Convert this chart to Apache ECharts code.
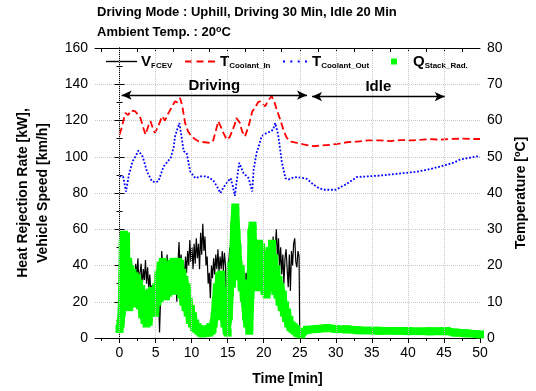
<!DOCTYPE html>
<html>
<head>
<meta charset="utf-8">
<script src="https://cdn.jsdelivr.net/npm/echarts@6/dist/echarts.min.js"></script>
<style>
html, body { margin: 0; padding: 0; background: #fff; }
#chart { width: 536px; height: 391px; }
</style>
</head>
<body>
<div id="chart"></div>
<script>
// 时间轴刻度
var x_major = [0, 5, 10, 15, 20, 25, 30, 35, 40, 45, 50];
var x_minor = [-2.5, 2.5, 7.5, 12.5, 17.5, 22.5, 27.5, 32.5, 37.5, 42.5, 47.5];
var x_top = [-2.5, 0, 2.5, 5, 7.5, 10, 12.5, 15, 17.5, 20, 22.5, 25, 27.5, 30, 32.5, 35, 37.5, 40, 42.5, 45, 47.5];
var x_grid = [0.001, 5, 10, 15, 20, 25, 30, 35, 40, 45];

// 行驶段采样时间 [min]
var drive_time = [
	0, 0.15, 0.3, 0.45, 0.6, 0.75, 0.9, 1.05, 1.2, 1.35,
	1.5, 1.65, 1.8, 1.95, 2.1, 2.25, 2.4, 2.55, 2.7, 2.85,
	3, 3.15, 3.3, 3.45, 3.6, 3.75, 3.9, 4.05, 4.2, 4.35,
	4.5, 4.65, 4.8, 4.95, 5.1, 5.25, 5.4, 5.55, 5.7, 5.85,
	6, 6.15, 6.3, 6.45, 6.6, 6.75, 6.9, 7.05, 7.2, 7.35,
	7.5, 7.65, 7.8, 7.95, 8.1, 8.25, 8.4, 8.55, 8.7, 8.85,
	9, 9.15, 9.3, 9.45, 9.6, 9.75, 9.9, 10.05, 10.2, 10.35,
	10.5, 10.65, 10.8, 10.95, 11.1, 11.25, 11.4, 11.55, 11.7, 11.85,
	12, 12.15, 12.3, 12.45, 12.6, 12.75, 12.9, 13.05, 13.2, 13.35,
	13.5, 13.65, 13.8, 13.95, 14.1, 14.25, 14.4, 14.55, 14.7, 14.85,
	15, 15.15, 15.3, 15.45, 15.6, 15.75, 15.9, 16.05, 16.2, 16.35,
	16.5, 16.65, 16.8, 16.95, 17.1, 17.25, 17.4, 17.55, 17.7, 17.85,
	18, 18.15, 18.3, 18.45, 18.6, 18.75, 18.9, 19.05, 19.2, 19.35,
	19.5, 19.65, 19.8, 19.95, 20.1, 20.25, 20.4, 20.55, 20.7, 20.85,
	21, 21.15, 21.3, 21.45, 21.6, 21.75, 21.9, 22.05, 22.2, 22.35,
	22.5, 22.65, 22.8, 22.95, 23.1, 23.25, 23.4, 23.55, 23.7, 23.85,
	24, 24.15, 24.3, 24.45, 24.6, 24.75, 24.9
];

// V_FCEV 车速 [km/h]
var speed_value = [
	37, 48, 33, 46, 30, 44, 36, 42, 31, 40,
	36, 43, 32, 38, 29, 41, 34, 44, 30, 36,
	41, 28, 38, 32, 43, 30, 39, 27, 35, 25,
	29, 24, 28, 23, 27, 20, 26, 3, 22, 48,
	40, 35, 44, 33, 46, 30, 42, 36, 28, 40,
	27, 44, 33, 20, 40, 53, 38, 46, 34, 42,
	31, 45, 36, 48, 40, 54, 42, 50, 38, 52,
	41, 55, 44, 52, 38, 58, 46, 63, 48, 56,
	40, 45, 30, 36, 22, 40, 33, 44, 35, 46,
	38, 49, 36, 45, 38, 48, 37, 47, 40, 14,
	26, 42, 50, 45, 58, 48, 52, 40, 46, 36,
	44, 35, 40, 30, 38, 28, 23, 36, 32, 44,
	36, 46, 50, 34, 44, 30, 48, 38, 54, 42,
	50, 40, 46, 38, 44, 40, 49, 42, 48, 44,
	53, 38, 56, 40, 50, 60, 44, 55, 38, 50,
	35, 46, 30, 44, 49, 38, 28, 46, 26, 48,
	40, 52, 55, 42, 39, 48, 45
];
var speed_end_time = [25.0];
var speed_end_value = [0];

// Q_Stack_Rad. 散热量 [kW]
var q_drive_value = [
	5, 8, 14, 52, 57, 22, 56, 18, 42, 17,
	38, 20, 36, 22, 34, 19, 33, 20, 30, 18,
	27, 13, 24, 10, 20, 8, 22, 9, 25, 14,
	26, 15, 24, 14, 28, 20, 35, 22, 40, 24,
	42, 25, 40, 23, 38, 25, 40, 27, 41, 28,
	42, 26, 40, 28, 42, 30, 41, 24, 36, 20,
	32, 17, 28, 14, 20, 10, 16, 8, 12, 6,
	8, 5, 6, 4, 5, 3, 4, 2.5, 4, 3,
	4, 3, 5, 3, 6, 4, 5, 8, 12, 20,
	28, 14, 34, 18, 35, 12, 26, 8, 12, 4,
	3, 12, 25, 40, 30, 44, 62, 72, 58, 50,
	40, 34, 38, 28, 30, 22, 20, 12, 8, 28,
	4, 24, 58, 62, 40, 52, 30, 48, 28, 52,
	30, 50, 28, 46, 26, 44, 24, 40, 28, 48,
	30, 52, 28, 44, 26, 38, 24, 32, 20, 28,
	17, 24, 14, 18, 11, 14, 8, 10, 6, 7,
	5, 6, 4, 5, 3, 3.5, 2.5
];
var q_idle_time = [25.2, 26, 27.4, 28.8, 30, 31.5, 33, 36, 40, 43, 45.4, 46.5, 48, 50];
var q_idle_value = [2, 4.5, 5, 5.5, 5, 4.8, 4.3, 4, 3.8, 3.7, 3.8, 3, 2.6, 2];

// T_Coolant_In 入口温度 [°C]
var tin_time = [0, 0.3, 0.8, 1.2, 1.6, 2.2, 2.6, 2.9, 3.3, 3.6, 4.0, 4.3, 4.6, 4.9, 5.4, 5.9, 6.3, 6.8, 7.2, 7.7, 8.0, 8.4, 8.7, 9.1, 9.5, 10.0, 10.5, 11.0, 11.8, 12.6, 13.0, 13.4, 13.7, 14.0, 14.4, 14.9, 15.3, 15.6, 16.0, 16.2, 16.7, 17.0, 17.4, 17.9, 18.4, 18.8, 19.2, 19.5, 19.8, 20.2, 20.6, 21.1, 21.5, 21.8, 22.3, 22.8, 23.2, 23.8, 24.6, 25.5, 26.9, 28.0, 29.2, 30.5, 31.5, 33, 34.5, 36.1, 37.5, 39, 40.7, 42, 43, 44.5, 46, 47.5, 49, 50];
var tin_value = [56.1, 58, 62.1, 61.5, 62.8, 62.5, 61.5, 60.7, 58, 56.1, 58.5, 59.8, 58, 56.6, 58.5, 61.2, 60, 62.1, 63.5, 65.3, 65, 66.2, 64, 59.3, 57, 55.6, 54.8, 54.2, 54.0, 53.8, 54.5, 57.5, 59.8, 58.5, 56.6, 54.7, 55.5, 57, 59, 60.7, 59.3, 57, 55.6, 58.4, 62.5, 63.5, 65, 65.3, 64.5, 63.9, 65.5, 66.7, 65, 63, 60.2, 57, 55.2, 54.2, 53.8, 53.4, 52.9, 53.1, 53.3, 53.6, 54, 54.2, 54.5, 54.5, 54.3, 54.6, 54.5, 54.7, 54.9, 54.7, 54.9, 55.0, 54.9, 54.9];

// T_Coolant_Out 出口温度 [°C]
var tout_time = [0, 0.5, 0.9, 1.3, 1.8, 2.2, 2.6, 3.2, 3.8, 4.5, 5.0, 5.4, 6.1, 6.6, 7.1, 7.5, 7.7, 8.0, 8.3, 8.6, 8.9, 9.3, 9.8, 10.5, 11.3, 12.1, 13.0, 13.6, 14.0, 14.4, 14.7, 15.4, 15.7, 16.0, 16.3, 16.6, 17.2, 17.9, 18.4, 18.6, 19.0, 19.4, 19.7, 20.4, 21.0, 21.3, 21.6, 22.0, 22.5, 23.0, 23.4, 24.0, 24.6, 25.5, 26.0, 26.9, 27.6, 28.3, 29.2, 30.1, 30.8, 31.5, 32.0, 32.9, 34.5, 36.1, 38, 39.4, 41, 42.1, 43.5, 45.4, 46.5, 47.2, 48.5, 49.5, 50];
var tout_value = [44.6, 44.6, 40.4, 45, 48.7, 50, 51.7, 50.1, 46, 43.2, 43, 43.2, 47.3, 48.5, 49.7, 52.5, 55.6, 57.5, 59.3, 55.6, 51.5, 51.1, 46, 44.1, 44.6, 44.6, 43.5, 41.5, 40, 41.5, 42.3, 44.1, 42, 39.2, 44, 48.3, 45.5, 44.1, 40.4, 46.4, 51, 53.5, 55.6, 56.6, 57.0, 57.5, 59.3, 56.1, 48.7, 44.1, 43.7, 44.2, 44.4, 44.1, 43.9, 42.3, 41.4, 40.9, 40.9, 40.9, 41.8, 42.5, 43.2, 44.4, 44.6, 44.8, 45.2, 45.5, 45.8, 46.2, 46.8, 47.8, 48.5, 49.2, 49.7, 50.1, 50.0];

// 行驶/怠速标注
var driving_range = [0.3, 26];
var idle_range = [26.7, 45.1];
var arrow_level = 134;

var font_family = "'Liberation Sans', Arial, sans-serif";

function to_pairs(xs, ys) {
	var out = [];
	for (var i = 0; i < xs.length; i++) {
		out.push([xs[i], ys[i]]);
	}
	return out;
}

// 单项图例（位置逐个指定）
function legend_item(name, left, item_width, item_height, icon, text_pad, line_sample) {
	return {
		data: [{ name: name, icon: icon }],
		left: left,
		top: 54,
		padding: 0,
		itemWidth: item_width,
		itemHeight: item_height,
		itemGap: 0,
		selectedMode: false,
		icon: icon,
		itemStyle: { borderWidth: 0 },
		formatter: function (n) {
			var parts = n.split('_');
			return (line_sample ? '{ln|}' : '') + '{m|' + parts[0] + '}{s|' + parts.slice(1).join('_') + '}';
		},
		textStyle: {
			fontFamily: font_family,
			rich: {
				ln: { width: 31, height: 1.4, backgroundColor: '#000' },
				m: { fontSize: 15, fontWeight: 'bold', color: '#000', lineHeight: 17, padding: [0, 0, 0, text_pad] },
				s: { fontSize: 8, fontWeight: 'bold', color: '#000', verticalAlign: 'bottom', padding: [9, 0, 0, 0] }
			}
		}
	};
}

var grid_lines = [];
for (var i = 0; i < x_grid.length; i++) {
	grid_lines.push({ xAxis: x_grid[i] });
}

var chart = echarts.init(document.getElementById('chart'));
var option = {
	animation: false,
	backgroundColor: '#fff',
	title: [{
		text: 'Driving Mode : Uphill, Driving 30 Min, Idle 20 Min',
		left: 97,
		top: 6,
		padding: 0,
		textStyle: { fontFamily: font_family, fontSize: 13, fontWeight: 'bold', color: '#000' }
	}, {
		text: 'Ambient Temp. : 20{sup|o}C',
		left: 97,
		top: 25,
		padding: 0,
		textStyle: {
			fontFamily: font_family, fontSize: 13, fontWeight: 'bold', color: '#000',
			rich: { sup: { fontSize: 9, fontWeight: 'bold', color: '#000', verticalAlign: 'top', padding: [0, 0, 6, 0] } }
		}
	}],
	legend: [
		legend_item('V_FCEV', 101, 0, 2, 'none', 4, true),
		legend_item('T_Coolant_In', 185, 30, 2, 'path://M0,0h7v2h-7z M11.5,0h7v2h-7z M23,0h7v2h-7z', 0, false),
		legend_item('T_Coolant_Out', 283, 24, 2, 'path://M0,0h2v2h-2z M7.3,0h2v2h-2z M14.7,0h2v2h-2z M22,0h2v2h-2z', 0, false),
		legend_item('Q_Stack_Rad.', 391, 6, 6, 'rect', 11, false)
	],
	grid: { left: 95, right: 55, top: 48, bottom: 53 },
	xAxis: [{
		type: 'value', min: -3.4, max: 50, position: 'bottom',
		name: 'Time [min]', nameLocation: 'middle', nameGap: 34,
		nameTextStyle: { fontFamily: font_family, fontSize: 14, fontWeight: 'bold', color: '#000' },
		axisLine: { show: true, lineStyle: { color: '#000', width: 1 } },
		axisTick: { show: true, customValues: x_major, length: 5, lineStyle: { color: '#000' } },
		axisLabel: { customValues: x_major, fontFamily: font_family, fontSize: 14, color: '#000', margin: 8 },
		splitLine: { show: false }
	}, {
		type: 'value', min: -3.4, max: 50, position: 'bottom',
		axisLine: { show: false },
		axisTick: { show: true, customValues: x_minor, length: 3, lineStyle: { color: '#000' } },
		axisLabel: { show: false },
		splitLine: { show: false }
	}, {
		type: 'value', min: -3.4, max: 50, position: 'top',
		axisLine: { show: true, lineStyle: { color: '#000', width: 1 } },
		axisTick: { show: true, inside: true, customValues: x_top, length: 4, lineStyle: { color: '#000' } },
		axisLabel: { show: false },
		splitLine: { show: false }
	}],
	yAxis: [{
		type: 'value', min: 0, max: 160, interval: 20, position: 'left',
		name: 'Heat Rejection Rate [kW],\nVehicle Speed [km/h]', nameLocation: 'middle', nameGap: 42,
		nameTextStyle: { fontFamily: font_family, fontSize: 14, fontWeight: 'bold', color: '#000', lineHeight: 20 },
		axisLine: { show: true, lineStyle: { color: '#000', width: 1 } },
		axisTick: { show: true, length: 5, lineStyle: { color: '#000' } },
		minorTick: { show: true, splitNumber: 2, length: 3, lineStyle: { color: '#000' } },
		axisLabel: { fontFamily: font_family, fontSize: 14, color: '#000', margin: 7 },
		splitLine: { show: true, lineStyle: { color: '#c8c8c8', type: 'dotted', width: 1 } }
	}, {
		type: 'value', min: 0, max: 80, interval: 10, position: 'right',
		name: 'Temperature [{sup|o}C]', nameLocation: 'middle', nameGap: 32,
		nameTextStyle: {
			fontFamily: font_family, fontSize: 14, fontWeight: 'bold', color: '#000',
			rich: { sup: { fontSize: 9, fontWeight: 'bold', color: '#000', verticalAlign: 'top', padding: [0, 0, 6, 0] } }
		},
		axisLine: { show: true, lineStyle: { color: '#000', width: 1 } },
		axisTick: { show: true, length: 5, lineStyle: { color: '#000' } },
		minorTick: { show: true, splitNumber: 2, length: 3, lineStyle: { color: '#000' } },
		axisLabel: { fontFamily: font_family, fontSize: 14, color: '#000', margin: 7 },
		splitLine: { show: false }
	}],
	series: [{
		// 竖向网格线
		name: 'grid', type: 'line', data: [], showSymbol: false, symbol: 'none', silent: true, z: 1,
		markLine: {
			silent: true, symbol: 'none', animation: false,
			label: { show: false },
			lineStyle: { color: '#c8c8c8', type: 'dotted', width: 1 },
			data: grid_lines
		}
	}, {
		name: 'V_FCEV', type: 'line',
		data: to_pairs(drive_time.concat(speed_end_time), speed_value.concat(speed_end_value)),
		showSymbol: false, symbol: 'none', z: 3,
		lineStyle: { color: '#000', width: 1.2 }, itemStyle: { color: '#000' }
	}, {
		// 行驶/怠速箭头标注
		name: 'annotation', type: 'line', data: [], showSymbol: false, symbol: 'none', silent: true, z: 3,
		markLine: {
			silent: true, animation: false,
			symbol: ['arrow', 'arrow'], symbolSize: [7, 10],
			lineStyle: { color: '#000', type: 'solid', width: 1.3 },
			label: { show: true, position: 'middle', distance: 2, fontFamily: font_family, fontSize: 15, fontWeight: 'bold', color: '#000' },
			data: [
				[{ coord: [driving_range[0], arrow_level], name: 'Driving', label: { formatter: 'Driving' } }, { coord: [driving_range[1], arrow_level] }],
				[{ coord: [idle_range[0], arrow_level - 0.8], name: 'Idle', label: { formatter: 'Idle' } }, { coord: [idle_range[1], arrow_level - 0.8] }]
			]
		}
	}, {
		name: 'T_Coolant_In', type: 'line', yAxisIndex: 1, data: to_pairs(tin_time, tin_value),
		showSymbol: false, symbol: 'none', z: 3,
		lineStyle: { color: '#ff0000', width: 1.8, type: 'dashed' }, itemStyle: { color: '#ff0000' }
	}, {
		name: 'T_Coolant_Out', type: 'line', yAxisIndex: 1, data: to_pairs(tout_time, tout_value),
		showSymbol: false, symbol: 'none', z: 3,
		lineStyle: { color: '#0000ff', width: 1.8, type: 'dotted' }, itemStyle: { color: '#0000ff' }
	}, {
		name: 'Q_Stack_Rad.', type: 'line',
		data: to_pairs(drive_time.concat(q_idle_time), q_drive_value.concat(q_idle_value)),
		symbol: 'rect', symbolSize: 8, showSymbol: true, showAllSymbol: true, z: 4,
		lineStyle: { color: '#00ff00', width: 8 }, itemStyle: { color: '#00ff00' }
	}]
};
chart.setOption(option);
</script>
</body>
</html>
